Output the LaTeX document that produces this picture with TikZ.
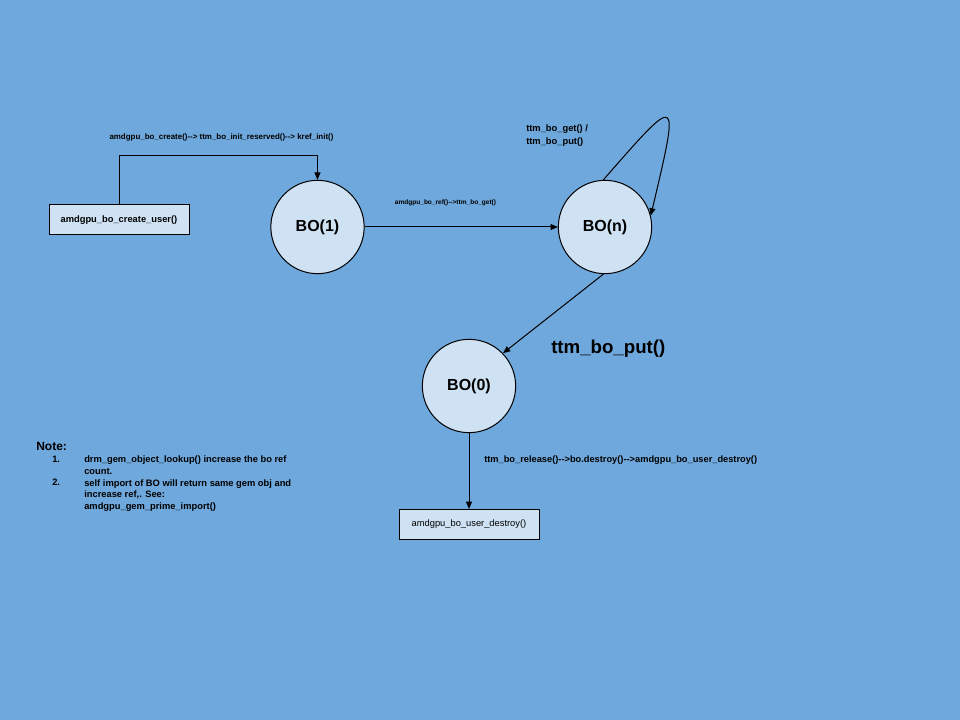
\documentclass[tikz,border=0pt]{standalone}
\usepackage{fontspec}
\setmainfont{Liberation Sans}
\usetikzlibrary{arrows.meta}
\definecolor{bgblue}{HTML}{6FA8DC}
\definecolor{paleblue}{HTML}{CFE2F3}
\newcommand{\callarrow}{-{}-{}>}
\begin{document}
\begin{tikzpicture}[x=0.75pt,y=-0.75pt,
  every node/.style={inner sep=0pt},
  state/.style={circle,draw=black,line width=0.75pt,fill=paleblue,minimum size=70pt,
    font=\fontsize{12}{14}\selectfont\bfseries},
  fnbox/.style={rectangle,draw=black,line width=0.75pt,fill=paleblue,minimum width=105pt,minimum height=22.5pt},
  conn/.style={line width=0.75pt,-{Triangle[length=5.5pt,width=4.5pt]}},
  lbl/.style={font=\fontsize{7}{8.8}\selectfont\bfseries},
  tinylbl/.style={font=\fontsize{4.9}{6}\selectfont\bfseries},
  toplbl/.style={font=\fontsize{5.95}{7}\selectfont\bfseries}]
  % background
  \fill[bgblue] (0,0) rectangle (960,720);
  \useasboundingbox (0,0) rectangle (960,720);

  % states and function boxes
  \node[fnbox,font=\fontsize{7}{8.6}\selectfont\bfseries] (create) at (119,220) {amdgpu\_bo\_create\_user()};
  \node[state] (bo1) at (317.5,227) {BO(1)};
  \node[state] (bon) at (605,227) {BO(n)};
  \node[state] (bo0) at (469,386) {BO(0)};
  \node[fnbox,font=\fontsize{7}{8.6}\selectfont] (destroy) at (469,524.5) {amdgpu\_bo\_user\_destroy()};

  % connectors
  \coordinate (c1) at (119,156);
  \coordinate (c2) at (317.5,156);
  \draw[conn] (create.north -| c1) -- (c1) -- (c2) -- (bo1.north);
  \draw[conn] (bo1.east) -- (bon.west);
  \draw[conn] (bon.92) .. controls (680,92) and (680,92) .. (bon.14);
  \draw[conn] (bon.268) -- (bo0.44);
  \draw[conn] (bo0.south) -- (destroy.north);

  % connector labels
  \node[toplbl] (l1) at (221.5,137.5) {amdgpu\_bo\_create()\callarrow{} ttm\_bo\_init\_reserved()\callarrow{} kref\_init()};
  \node[tinylbl] (l2) at (445.5,202.5) {amdgpu\_bo\_ref()\callarrow{}ttm\_bo\_get()};
  \node[anchor=west,align=left,font=\fontsize{7}{9.2}\selectfont\bfseries] (l3) at (526,135.5) {ttm\_bo\_get() /\\ttm\_bo\_put()};
  \node[anchor=west,font=\fontsize{14}{16}\selectfont\bfseries] (l4) at (551,349) {ttm\_bo\_put()};
  \node[anchor=west,font=\fontsize{6.95}{8}\selectfont\bfseries] (l5) at (484,460.5) {ttm\_bo\_release()\callarrow{}bo.destroy()\callarrow{}amdgpu\_bo\_user\_destroy()};

  % note
  \node[anchor=west,font=\fontsize{9}{11}\selectfont\bfseries] (note) at (36,446) {Note:};
  \node[lbl,anchor=north west] (n1) at (52,455.5) {1.};
  \node[lbl,anchor=north west,align=left] (t1) at (84,455.5) {drm\_gem\_object\_lookup() increase the bo ref\\count.};
  \node[lbl,anchor=north west] (n2) at (52,479) {2.};
  \node[lbl,anchor=north west,align=left] (t2) at (84,479) {self import of BO will return same gem obj and\\increase ref,. See:\\amdgpu\_gem\_prime\_import()};
\end{tikzpicture}
\end{document}
